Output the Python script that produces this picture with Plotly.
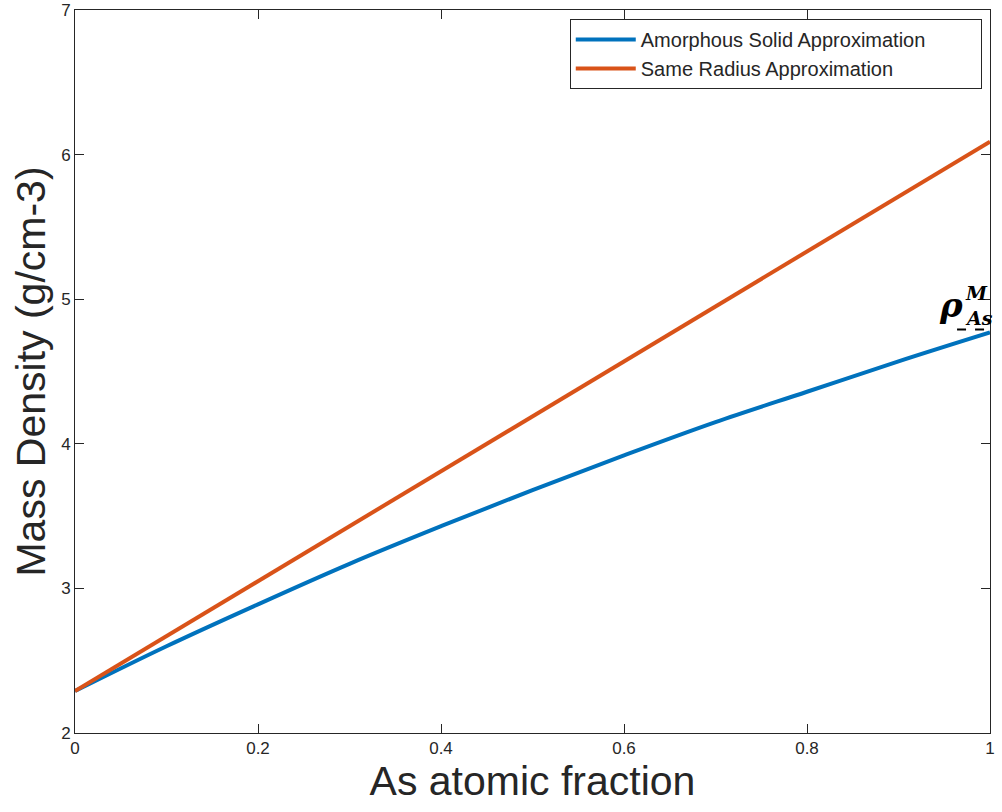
import plotly.graph_objects as go

# Data
as_fraction = [0.0, 0.1, 0.2, 0.3, 0.4, 0.5, 0.6, 0.7, 0.8, 0.9, 1.0]
amorphous_density = [2.29, 2.60, 2.89, 3.17, 3.43, 3.68, 3.92, 4.15, 4.36, 4.57, 4.77]
same_radius_density = [2.29, 2.67, 3.05, 3.43, 3.81, 4.19, 4.57, 4.95, 5.33, 5.71, 6.09]

x_ticks = [0, 0.2, 0.4, 0.6, 0.8, 1]
x_tick_labels = ["0", "0.2", "0.4", "0.6", "0.8", "1"]
y_ticks = [2, 3, 4, 5, 6, 7]

series_names = ["Amorphous Solid Approximation", "Same Radius Approximation"]

# Dashed underline segment of the rho label (data units)
label_dash_x = [0.964, 1.011]
label_dash_y = 4.79

blue = "#0072BD"
orange = "#D95319"
ink = "#262626"
sans = "Liberation Sans"
serif = "DejaVu Serif"
pad = "\u00a0" * 9

fig = go.Figure()
fig.add_trace(go.Scatter(x=as_fraction, y=amorphous_density, mode="lines",
                         line=dict(color=blue, width=4, shape="spline"),
                         name=series_names[0] + pad))
fig.add_trace(go.Scatter(x=as_fraction, y=same_radius_density, mode="lines",
                         line=dict(color=orange, width=4),
                         name=series_names[1] + pad))

# Annotation rho^M_As near the end of the blue curve
fig.add_annotation(x=0.9712, y=4.96, xref="x", yref="y", xanchor="right", text="<b><i>ρ</i></b>",
                   showarrow=False, borderpad=0, font=dict(family=serif, size=34, color="black"))
fig.add_annotation(x=0.9715, y=5.04, xref="x", yref="y", xanchor="left", text="<b><i>M</i></b>",
                   showarrow=False, borderpad=0, font=dict(family=serif, size=19, color="black"))
fig.add_annotation(x=0.9715, y=4.87, xref="x", yref="y", xanchor="left", text="<b><i>As</i></b>",
                   showarrow=False, borderpad=0, font=dict(family=serif, size=19, color="black"))
fig.add_shape(type="line", x0=label_dash_x[0], x1=label_dash_x[1], y0=label_dash_y, y1=label_dash_y,
              xref="x", yref="y", line=dict(color="black", width=2, dash="dash"))

axis_common = dict(showline=True, linecolor=ink, linewidth=1, mirror="ticks",
                   ticks="inside", ticklen=9, tickcolor=ink, showgrid=False,
                   zeroline=False, automargin=False, ticklabeloverflow="allow",
                   tickfont=dict(family=sans, size=17, color=ink))

fig.update_layout(
    width=1002, height=812,
    margin=dict(l=75, r=12, t=10, b=79),
    paper_bgcolor="white", plot_bgcolor="white",
    xaxis=dict(range=[0, 1], tickvals=x_ticks, ticktext=x_tick_labels,
               title=dict(text="As atomic fraction", font=dict(family=sans, size=41, color=ink), standoff=4),
               **axis_common),
    yaxis=dict(range=[2, 7], tickvals=y_ticks,
               title=dict(text="Mass Density (g/cm-3)", font=dict(family=sans, size=41, color=ink), standoff=2),
               **axis_common),
    legend=dict(x=0.991, y=0.9876, xanchor="right", yanchor="top",
                bordercolor=ink, borderwidth=1, bgcolor="white",
                font=dict(family=sans, size=20, color=ink),
                itemwidth=60, tracegroupgap=0),
    showlegend=True,
)

fig.write_html("out.html", config={"displayModeBar": False},
               post_script="document.body.style.margin='0';document.body.style.overflow='hidden';")
